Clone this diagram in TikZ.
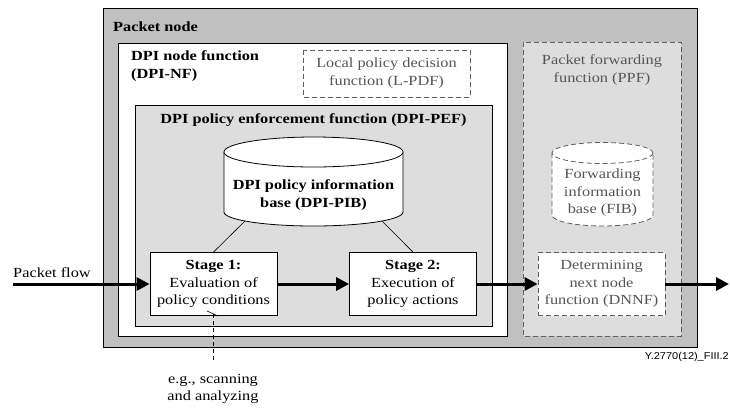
\documentclass[tikz,border=0pt]{standalone}
\usepackage{fontspec}
\setmainfont{Liberation Serif}[FakeStretch=1.17]
\newfontfamily\figfont{Liberation Sans}[FakeStretch=1.1]
\usetikzlibrary{arrows.meta}
\definecolor{framegray}{RGB}{192,192,192}
\definecolor{panelgray}{RGB}{221,221,221}
\definecolor{textgray}{RGB}{85,85,85}
\definecolor{linegray}{RGB}{95,95,95}

\begin{document}
\begin{tikzpicture}[x=1bp,y=-1bp,
    font=\fontsize{14}{17.5}\selectfont,
    box/.style={draw, line width=0.8bp},
    dashbox/.style={draw=linegray, dash pattern=on 5bp off 3bp, line width=0.8bp},
    stage/.style={box, fill=white, minimum width=127bp, minimum height=63bp, align=center, inner sep=0pt},
    nextbox/.style={dashbox, fill=white, text=textgray, minimum width=127bp, minimum height=63bp, align=center, inner sep=0pt},
    flow/.style={line width=3bp, -{Triangle[length=13bp,width=13bp]}},
    greytext/.style={text=textgray, align=center, inner sep=0pt}]
    \useasboundingbox (0,0) rectangle (730,408);
    % frames
    \draw[box, fill=framegray] (103,8) rectangle (697,347);
    \draw[box, fill=white] (118,43) rectangle (507,336);
    \draw[box, fill=panelgray] (135,105) rectangle (492,326);
    \draw[dashbox, fill=panelgray] (523,42) rectangle (681,336);
    \draw[dashbox] (303,50) rectangle (470,97);
    \node[anchor=west, inner sep=0pt, font=\fontsize{14}{17.5}\selectfont\bfseries] (pktlabel) at (113,27) {Packet node};
    \node[anchor=west, inner sep=0pt, align=left, font=\fontsize{14}{17.5}\selectfont\bfseries] (nflabel) at (131,66) {DPI node function\\(DPI-NF)};
    \node[greytext] (lpdf) at (386.5,73) {Local policy decision\\function (L-PDF)};
    \node[inner sep=0pt, font=\fontsize{14}{17.5}\selectfont\bfseries] (peflabel) at (313.5,120) {DPI policy enforcement function (DPI-PEF)};
    \node[greytext] (ppflabel) at (602,70) {Packet forwarding\\function (PPF)};
    % information bases
    \draw[line width=0.8bp, fill=white] (224,152) -- (224,212) arc[start angle=180, end angle=0, x radius=89.5, y radius=14] -- (403,152);
    \draw[line width=0.8bp, fill=white] (313.5,152) ellipse[x radius=89.5, y radius=15];
    \node[inner sep=0pt, align=center, font=\fontsize{14}{17.5}\selectfont\bfseries] (pib) at (313.5,195) {DPI policy information\\base (DPI-PIB)};
    \draw[dashbox, fill=white] (552,153) -- (552,215) arc[start angle=180, end angle=0, x radius=50.5, y radius=11] -- (653,153);
    \draw[dashbox, fill=white] (602.5,153) ellipse[x radius=50.5, y radius=10.5];
    \node[greytext] (fib) at (602.5,193) {Forwarding\\information\\base (FIB)};
    % stages
    \node[stage] (s1) at (213.5,284) {\textbf{Stage 1:}\\Evaluation of\\policy conditions};
    \node[stage] (s2) at (413,284) {\textbf{Stage 2:}\\Execution of\\policy actions};
    \node[nextbox] (dnnf) at (601.5,284) {Determining\\next node\\function (DNNF)};
    \coordinate (pibL) at (245,221);
    \coordinate (pibR) at (382,221);
    \draw[line width=0.6bp] (pibL) -- (s1.north);
    \draw[line width=0.6bp] (pibR) -- (s2.north);
    % packet path
    \coordinate (in) at (13,284);
    \coordinate (out) at (729,284);
    \node[anchor=west, inner sep=0pt] (flowlabel) at (13,273) {Packet flow};
    \draw[flow] (in) -- (s1);
    \draw[flow] (s1) -- (s2);
    \draw[flow] (s2) -- (dnnf);
    \draw[flow] (dnnf) -- (out);
    % callout
    \coordinate (tick) at (213,314);
    \node[inner sep=0pt, align=center] (note) at (213,389) {e.g., scanning\\and analyzing};
    \draw[line width=0.6bp] ([shift={(-6,-3)}]tick) -- ([shift={(5,2)}]tick);
    \draw[line width=0.6bp, dash pattern=on 4bp off 3bp, shorten >=11bp] (tick) -- (note.north);
    \node[anchor=east, inner sep=0pt, font=\figfont\fontsize{10}{12}\selectfont] (figid) at (729,357) {Y.2770(12)\_FIII.2};
\end{tikzpicture}
\end{document}
